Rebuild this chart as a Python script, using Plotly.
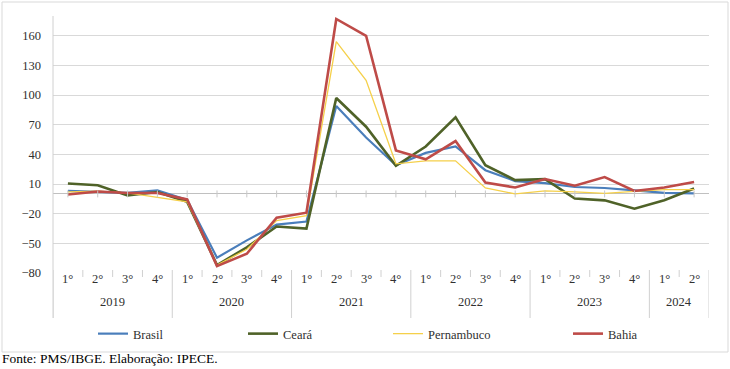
import plotly.graph_objects as go

quarters = ["1°", "2°", "3°", "4°"] * 5 + ["1°", "2°"]
years = ["2019", "2020", "2021", "2022", "2023", "2024"]
year_sizes = [4, 4, 4, 4, 4, 2]

brasil = [3, 2, 1, 3.5, -6, -64.5, -47, -31, -28, 89, 57, 29, 41.5, 48, 24, 13, 11, 7, 6, 3.5, 1, 0.5]
ceara = [10.5, 8.8, -1.5, 2, -8, -72, -54, -33, -35, 97, 68, 28.5, 48, 77.5, 29, 14, 15, -4.7, -6.5, -15, -6.4, 5.5]
pernambuco = [2, 2.7, 1, -3.5, -8, -72, -56, -27, -22, 154, 115, 30.5, 33.5, 33.5, 6, 0, 3, 2, 0.5, 2.5, 4.4, 4.4]
bahia = [-0.6, 2.4, 1, 1, -5.5, -73, -60.5, -24, -19, 177, 160, 44, 35, 53.5, 11.5, 6.5, 15, 8.3, 17, 3, 6.5, 12]

series_names = ["Brasil", "Ceará", "Pernambuco", "Bahia"]
series_values = [brasil, ceara, pernambuco, bahia]
colors = ["#4A7EBB", "#4F6228", "#F5D04A", "#BE4B48"]
widths = [2.2, 2.6, 1.3, 2.6]
legend_px = [98, 248, 393, 573]

y_ticks = [-80, -50, -20, 10, 40, 70, 100, 130, 160]
footer = "Fonte: PMS/IBGE. Elaboração: IPECE."

W, H = 730, 369
L, R, T, B = 53, 709, 16, 273
FONT = "'Liberation Serif', 'Times New Roman', serif"
TXT = "#303030"


def fx(px):
    return (px - L) / (R - L)


def fy(py):
    return (B - py) / (B - T)


x_idx = list(range(len(quarters)))
fig = go.Figure()
for k, (name, vals) in enumerate(zip(series_names, series_values)):
    fig.add_trace(go.Scatter(
        x=x_idx, y=vals, name=name, mode="lines",
        line=dict(color=colors[k], width=widths[k]),
        legend="legend" if k == 0 else f"legend{k + 1}",
    ))

layout_legends = {}
for k in range(len(series_names)):
    key = "legend" if k == 0 else f"legend{k + 1}"
    layout_legends[key] = dict(
        x=fx(legend_px[k] - 5), y=fy(334), xanchor="left", yanchor="middle",
        orientation="h", bgcolor="rgba(0,0,0,0)", borderwidth=0,
        font=dict(family=FONT, size=12.5, color=TXT),
    )

shapes = []
shapes.append(dict(type="rect", xref="paper", yref="paper", x0=fx(2), x1=fx(728),
                   y0=fy(352), y1=fy(2), line=dict(color="#D9D9D9", width=1)))
shapes.append(dict(type="line", xref="paper", yref="paper", x0=0, x1=0,
                   y0=fy(318), y1=1, line=dict(color="#D0D0D0", width=1)))
for i in x_idx:
    shapes.append(dict(type="line", xref="x", yref="y", x0=i, x1=i, y0=-3.5, y1=3.5,
                       line=dict(color="#C8C8C8", width=1)))
boundaries = set()
pos = 0
for s in year_sizes:
    boundaries.add(pos)
    pos += s
boundaries.add(pos)
for b in range(len(quarters) + 1):
    long = b in boundaries
    shapes.append(dict(type="line", xref="x", yref="paper", x0=b - 0.5, x1=b - 0.5,
                       y0=fy(318 if long else 277), y1=fy(270),
                       line=dict(color="#D0D0D0", width=1)))

annotations = []
for i, q in enumerate(quarters):
    annotations.append(dict(x=i, y=fy(288), xref="x", yref="paper", text=q,
                            showarrow=False, font=dict(family=FONT, size=12.5, color=TXT)))
pos = 0
for yr, s in zip(years, year_sizes):
    annotations.append(dict(x=pos + (s - 1) / 2, y=fy(311), xref="x", yref="paper", text=yr,
                            showarrow=False, font=dict(family=FONT, size=12.5, color=TXT)))
    pos += s
annotations.append(dict(x=fx(0), y=fy(358), xref="paper", yref="paper", text=footer,
                        xanchor="left", yanchor="middle", showarrow=False,
                        font=dict(family=FONT, size=13.5, color="#000000")))

fig.update_layout(
    width=W, height=H,
    font=dict(family=FONT),
    margin=dict(l=L, r=W - R, t=T, b=H - B, pad=0),
    paper_bgcolor="white", plot_bgcolor="white",
    showlegend=True,
    xaxis=dict(range=[-0.5, len(quarters) - 0.5], showgrid=False, showticklabels=False,
               zeroline=False, showline=False, ticks=""),
    yaxis=dict(range=[-80, 180], tickvals=y_ticks, showgrid=True, gridcolor="#D9D9D9",
               gridwidth=1, zeroline=True, zerolinecolor="#C0C0C0", zerolinewidth=1,
               showline=False, ticks="", ticklabelstandoff=11,
               tickfont=dict(family=FONT, size=12.5, color=TXT)),
    shapes=shapes,
    annotations=annotations,
    **layout_legends,
)

fig.write_html("out.html", config={"displayModeBar": False},
               post_script="document.body.style.margin='0';document.body.style.padding='0';")
